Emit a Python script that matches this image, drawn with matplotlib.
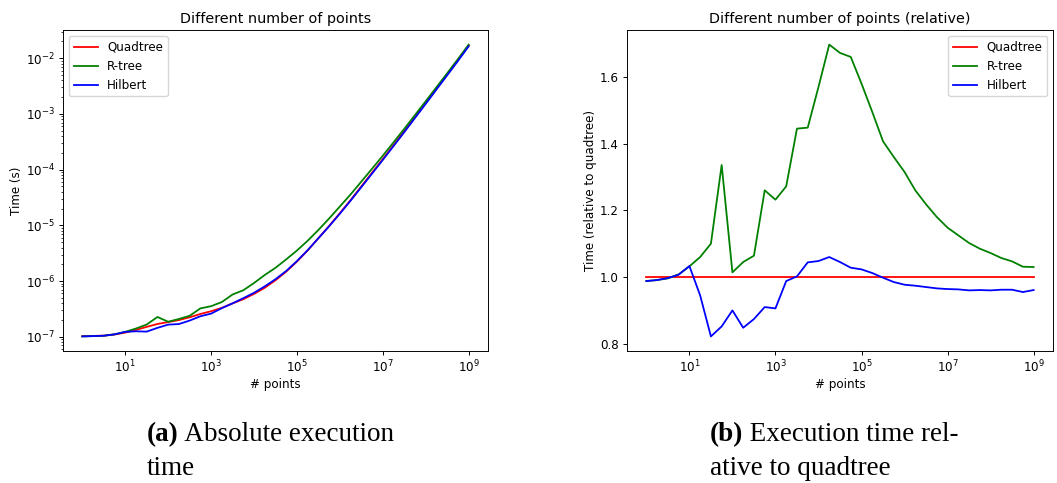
import matplotlib
matplotlib.use("Agg")
import matplotlib.pyplot as plt
import matplotlib.ticker as mticker
import numpy as np

# ---- data ----
n_points = [1, 1.778, 3.162, 5.623,
            1e1, 1.778e1, 3.162e1, 5.623e1,
            1e2, 1.778e2, 3.162e2, 5.623e2,
            1e3, 1.778e3, 3.162e3, 5.623e3,
            1e4, 1.778e4, 3.162e4, 5.623e4,
            1e5, 1.778e5, 3.162e5, 5.623e5,
            1e6, 1.778e6, 3.162e6, 5.623e6,
            1e7, 1.778e7, 3.162e7, 5.623e7,
            1e8, 1.778e8, 3.162e8, 5.623e8,
            1e9]

quadtree_time = [1.03e-7, 1.04e-7, 1.05e-7, 1.10e-7, 1.19e-7, 1.33e-7, 1.51e-7, 1.70e-7,
                 1.84e-7, 2.00e-7, 2.24e-7, 2.57e-7, 2.88e-7, 3.31e-7, 3.98e-7, 4.73e-7,
                 5.89e-7, 7.59e-7, 1.035e-6, 1.48e-6, 2.24e-6, 3.55e-6, 5.89e-6, 9.77e-6,
                 1.66e-5, 2.85e-5, 5.01e-5, 8.81e-5, 1.55e-4, 2.75e-4, 4.90e-4, 8.81e-4,
                 1.58e-3, 2.85e-3, 5.13e-3, 9.33e-3, 1.70e-2]

rtree_rel = [0.988, 0.991, 0.996, 1.008, 1.032, 1.06, 1.10, 1.336, 1.014, 1.045, 1.064,
             1.26, 1.232, 1.272, 1.445, 1.448, 1.57, 1.697, 1.672, 1.66, 1.58, 1.495,
             1.407, 1.36, 1.315, 1.26, 1.218, 1.18, 1.148, 1.125, 1.102, 1.085, 1.072,
             1.057, 1.047, 1.031, 1.03]

hilbert_rel = [0.988, 0.991, 0.997, 1.007, 1.033, 0.945, 0.822, 0.852, 0.90, 0.848, 0.874,
               0.91, 0.906, 0.988, 1.002, 1.044, 1.048, 1.06, 1.045, 1.028, 1.023, 1.012,
               0.998, 0.985, 0.977, 0.974, 0.97, 0.966, 0.964, 0.963, 0.96, 0.961, 0.96,
               0.962, 0.962, 0.955, 0.961]

x_ticks = [1e1, 1e3, 1e5, 1e7, 1e9]

series_names = ["Quadtree", "R-tree", "Hilbert"]
series_colors = ["red", "green", "blue"]

caption_a = ["(a)", " Absolute execution", "time"]
caption_b = ["(b)", " Execution time rel-", "ative to quadtree"]

# ---- derived ----
x = np.array(n_points)
q = np.array(quadtree_time)
r_rel = np.array(rtree_rel)
h_rel = np.array(hilbert_rel)
abs_series = [q, q * r_rel, q * h_rel]
rel_series = [np.ones_like(q), r_rel, h_rel]

S = 0.86
fs = 10 * S
plt.rcParams.update({
    "font.size": fs,
    "axes.titlesize": 12 * S,
    "axes.titlepad": 6 * S,
    "axes.labelsize": fs,
    "axes.labelpad": 2.0,
    "xtick.labelsize": fs,
    "ytick.labelsize": fs,
    "xtick.major.pad": 2.8,
    "ytick.major.pad": 3.0,
    "xtick.minor.pad": 2.8,
    "ytick.minor.pad": 3.0,
    "legend.fontsize": fs,
    "lines.linewidth": 1.5 * S,
    "axes.linewidth": 0.8 * S,
    "xtick.major.width": 0.8 * S,
    "ytick.major.width": 0.8 * S,
    "xtick.minor.width": 0.6 * S,
    "ytick.minor.width": 0.6 * S,
    "xtick.major.size": 3.5 * S,
    "ytick.major.size": 3.5 * S,
    "xtick.minor.size": 2 * S,
    "ytick.minor.size": 2 * S,
})

W, H = 1057, 483
fig = plt.figure(figsize=(W / 100, H / 100), dpi=100)

def px_axes(x0, y_top, x1, y_bot):
    return fig.add_axes([x0 / W, 1 - y_bot / H, (x1 - x0) / W, (y_bot - y_top) / H])

ax1 = px_axes(63, 30, 488, 351)
ax2 = px_axes(627, 30, 1053, 351)

for ys, name, c in zip(abs_series, series_names, series_colors):
    ax1.plot(x, ys, color=c, label=name)
ax1.set_xscale("log")
ax1.set_yscale("log")
ax1.set_xticks(x_ticks)
ax1.xaxis.set_minor_locator(mticker.NullLocator())
ax1.set_title("Different number of points")
ax1.set_xlabel("# points")
ax1.set_ylabel("Time (s)")
ax1.legend(loc="upper left")

for ys, name, c in zip(rel_series, series_names, series_colors):
    ax2.plot(x, ys, color=c, label=name)
ax2.set_xscale("log")
ax2.set_xticks(x_ticks)
ax2.xaxis.set_minor_locator(mticker.NullLocator())
ax2.set_title("Different number of points (relative)")
ax2.set_xlabel("# points")
ax2.set_ylabel("Time (relative to quadtree)")
ax2.legend(loc="upper right")

# ---- captions ----
cap_fs = 19.5
fam = "Liberation Serif"
fig.canvas.draw()
renderer = fig.canvas.get_renderer()

def caption(parts, x0, y1, y2):
    t_bold = fig.text(x0 / W, 1 - y1 / H, parts[0], fontsize=cap_fs, fontweight="bold",
                      family=fam, va="baseline", ha="left")
    bb = t_bold.get_window_extent(renderer=renderer)
    fig.text(bb.x1 / W, 1 - y1 / H, parts[1], fontsize=cap_fs, family=fam,
             va="baseline", ha="left")
    fig.text(x0 / W, 1 - y2 / H, parts[2], fontsize=cap_fs, family=fam,
             va="baseline", ha="left")

caption(caption_a, 147, 441, 475)
caption(caption_b, 710, 441, 475)

fig.savefig("out.png", dpi=100)
